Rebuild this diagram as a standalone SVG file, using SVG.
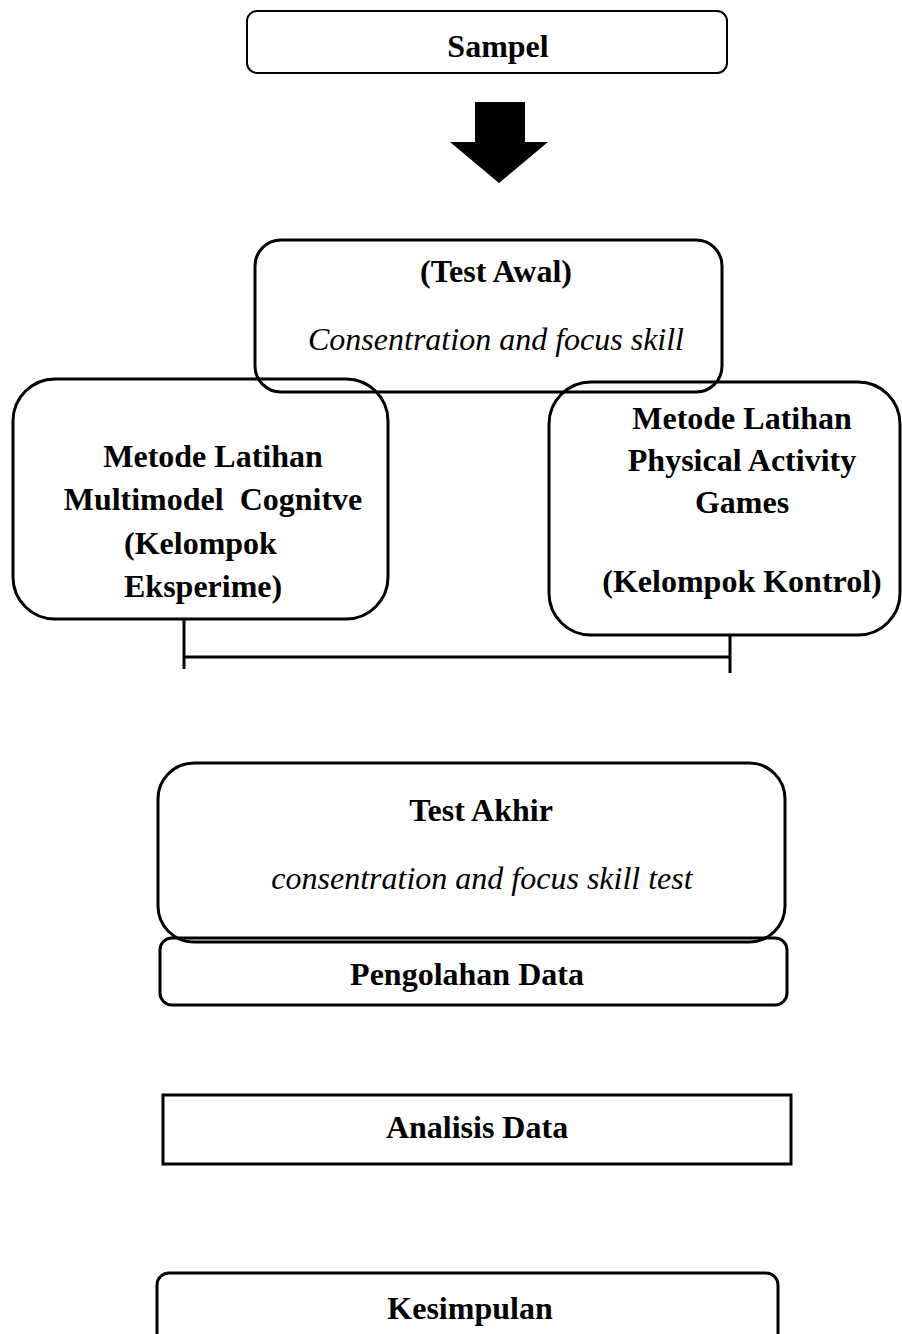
<svg xmlns="http://www.w3.org/2000/svg" width="902" height="1334" viewBox="0 0 902 1334">
<style>
.box{fill:none;stroke:#000;stroke-width:3}
.thin{fill:none;stroke:#000;stroke-width:2}
.b{font-family:"Liberation Serif","Times New Roman",serif;font-weight:bold;font-size:32px;fill:#000}
.i{font-family:"Liberation Serif","Times New Roman",serif;font-style:italic;font-size:32px;fill:#000}
.line{stroke:#000;stroke-width:3;fill:none}
</style>
<rect width="902" height="1334" fill="#fff"/>
<g id="sampel">
<rect class="thin" x="247" y="11" width="480" height="62" rx="10"/>
<text class="b" x="498" y="57" text-anchor="middle">Sampel</text>
</g>
<g id="connectors">
<polygon points="475,102 525,102 525,142 548,142 499,183 450,142 475,142" fill="#000"/>
<polyline class="line" points="184,620 184,669"/>
<polyline class="line" points="184,657 730,657"/>
<polyline class="line" points="730,635 730,673"/>
</g>
<g id="test-awal">
<rect class="box" x="255" y="240" width="467" height="152" rx="26"/>
<text class="b" x="496" y="282" text-anchor="middle">(Test Awal)</text>
<text class="i" x="496" y="350" text-anchor="middle">Consentration and focus skill</text>
</g>
<g id="kelompok-eksperimen">
<rect class="box" x="13" y="379" width="375" height="240" rx="42"/>
<text class="b" x="213" y="467" text-anchor="middle">Metode Latihan</text>
<text class="b" x="213" y="510" text-anchor="middle" xml:space="preserve">Multimodel  Cognitve</text>
<text class="b" x="124" y="554">(Kelompok</text>
<text class="b" x="124" y="597">Eksperime)</text>
</g>
<g id="kelompok-kontrol">
<rect class="box" x="549" y="382" width="351" height="253" rx="42"/>
<text class="b" x="742" y="429" text-anchor="middle">Metode Latihan</text>
<text class="b" x="742" y="471" text-anchor="middle">Physical Activity</text>
<text class="b" x="742" y="513" text-anchor="middle">Games</text>
<text class="b" x="742" y="592" text-anchor="middle">(Kelompok Kontrol)</text>
</g>
<g id="test-akhir">
<rect class="box" x="158" y="763" width="627" height="179" rx="36"/>
<text class="b" x="481" y="821" text-anchor="middle">Test Akhir</text>
<text class="i" x="482" y="889" text-anchor="middle">consentration and focus skill test</text>
</g>
<g id="pengolahan-data">
<rect class="box" x="160" y="938" width="627" height="67" rx="12"/>
<text class="b" x="467" y="985" text-anchor="middle">Pengolahan Data</text>
</g>
<g id="analisis-data">
<rect class="box" x="163" y="1095" width="628" height="69"/>
<text class="b" x="477" y="1138" text-anchor="middle">Analisis Data</text>
</g>
<g id="kesimpulan">
<rect class="box" x="157" y="1273" width="621" height="90" rx="12"/>
<text class="b" x="470" y="1319" text-anchor="middle">Kesimpulan</text>
</g>
</svg>
